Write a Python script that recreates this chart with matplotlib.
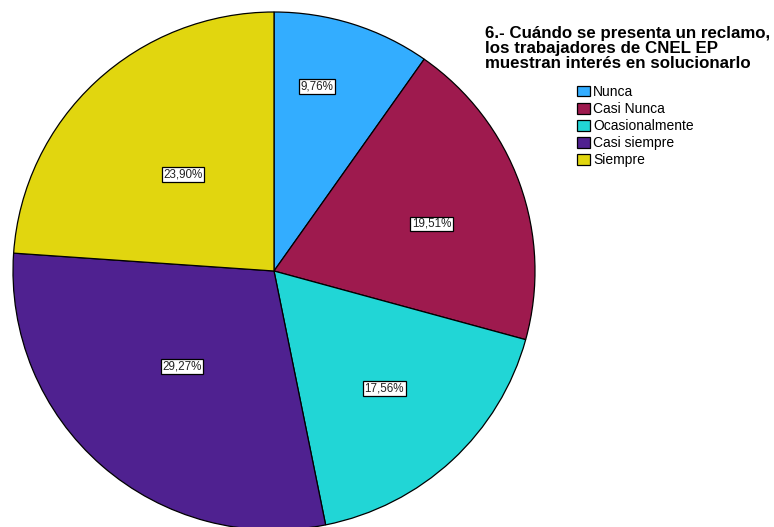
import numpy as np
import matplotlib.pyplot as plt
from matplotlib.patches import Patch

plt.rcParams['font.family'] = ['Liberation Sans', 'DejaVu Sans']

categorias = ['Nunca', 'Casi Nunca', 'Ocasionalmente', 'Casi siempre', 'Siempre']
porcentajes = [9.76, 19.51, 17.56, 29.27, 23.90]
colores = ['#33adff', '#9e1a4e', '#21d6d6', '#4f2190', '#e1d60f']
titulo = '6.- Cuándo se presenta un reclamo,\nlos trabajadores de CNEL EP\nmuestran interés en solucionarlo'

# posicion de cada etiqueta: fraccion del radio y giro respecto al centro de la cuña
dist_etiqueta = [0.73, 0.63, 0.62, 0.51, 0.51]
giro_etiqueta = [4.5, -3, 0, -2.3, 0]

fig = plt.figure(figsize=(7.74, 5.27), dpi=100)
ax = fig.add_axes([13/774, -3/527, 522/774, 518/527])

cunas, _ = ax.pie(porcentajes, colors=colores, startangle=90, counterclock=False,
                  radius=1, wedgeprops=dict(edgecolor='black', linewidth=0.9))
ax.set_xlim(-1, 1)
ax.set_ylim(-1, 1)
ax.set_aspect('auto')
ax.axis('off')

for cuna, p, d, g in zip(cunas, porcentajes, dist_etiqueta, giro_etiqueta):
    ang = np.deg2rad((cuna.theta1 + cuna.theta2) / 2 + g)
    x, y = d * np.cos(ang), d * np.sin(ang)
    ax.text(x, y, f'{p:.2f}%'.replace('.', ','), ha='center', va='center', fontsize=8.4,
            color='#222222',
            bbox=dict(boxstyle='square,pad=0.12', facecolor='white', edgecolor='black', linewidth=0.9))

fig.text(485/774, 1 - 26/527, titulo, fontsize=12.2, fontweight='bold', ha='left', va='top',
         linespacing=0.98)

manejadores = [Patch(facecolor=c, edgecolor='black', linewidth=0.9) for c in colores]
fig.legend(manejadores, categorias, loc='upper left', bbox_to_anchor=(577/774, 1 - 85/527),
           frameon=False, fontsize=10, handlelength=0.95, handleheight=0.8,
           handletextpad=0.2, labelspacing=0.22, borderpad=0, borderaxespad=0)

fig.savefig('out.png', dpi=100)
